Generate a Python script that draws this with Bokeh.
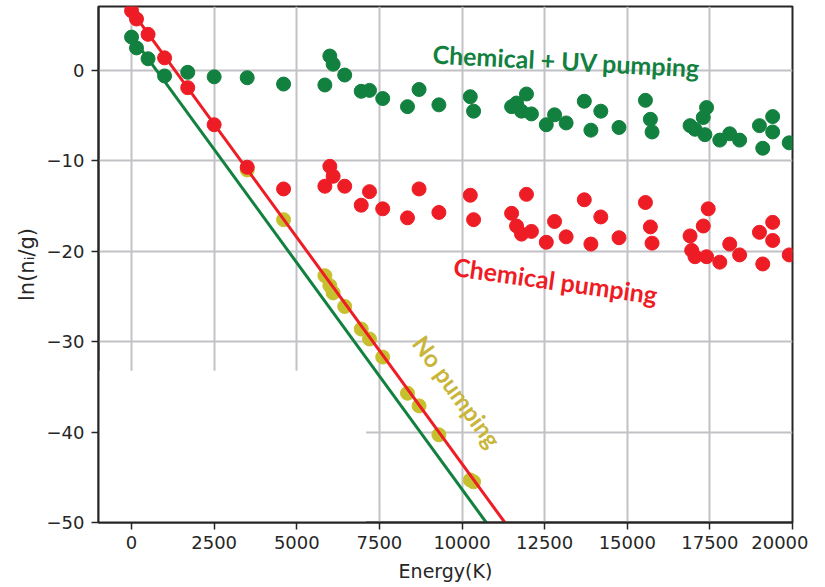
from bokeh.plotting import figure
from bokeh.models import Range1d, FixedTicker, BoxAnnotation, Label
from bokeh.embed import file_html
from bokeh.resources import INLINE

# ---- data ----
uv_x = [0, 150, 500, 1000, 1700, 2500, 3500, 4600, 5850, 6000, 6100, 6450, 6950, 7200,
        7600, 8350, 8700, 9300, 10250, 10350, 11500, 11650, 11800, 11950, 12100, 12550,
        12800, 13150, 13700, 13900, 14200, 14750, 15550, 15700, 15750, 16900, 17050,
        17300, 17350, 17400, 17800, 18100, 18400, 19000, 19100, 19400, 19400, 19900]
uv_y = [3.7, 2.5, 1.3, -0.6, -0.2, -0.7, -0.8, -1.5, -1.6, 1.6, 0.7, -0.5, -2.3, -2.2,
        -3.1, -4.0, -2.1, -3.8, -2.9, -4.5, -4.0, -3.6, -4.5, -2.6, -4.8, -6.0,
        -4.9, -5.8, -3.4, -6.6, -4.5, -6.3, -3.3, -5.4, -6.8, -6.1, -6.5,
        -5.2, -7.1, -4.1, -7.7, -7.0, -7.7, -6.1, -8.6, -5.1, -6.8, -8.0]

chem_x = [0, 150, 500, 1000, 1700, 2500, 3500, 4600, 5850, 6000, 6100, 6450, 6950, 7200,
          7600, 8350, 8700, 9300, 10250, 10350, 11500, 11650, 11800, 11950, 12100, 12550,
          12800, 13150, 13700, 13900, 14200, 14750, 15550, 15700, 15750, 16900, 16950,
          17050, 17300, 17400, 17450, 17800, 18100, 18400, 19000, 19100, 19400, 19400, 19900]
chem_y = [6.6, 5.7, 4.0, 1.4, -1.9, -6.0, -10.7, -13.1, -12.8, -10.6, -11.7, -12.8, -14.9, -13.4,
          -15.3, -16.3, -13.1, -15.7, -13.8, -16.5, -15.8, -17.2, -18.1, -13.7, -17.8, -19.0,
          -16.7, -18.4, -14.3, -19.2, -16.2, -18.5, -14.6, -17.3, -19.1, -18.3, -19.9,
          -20.6, -17.2, -20.6, -15.3, -21.2, -19.2, -20.4, -17.9, -21.4, -16.8, -18.8, -20.4]

nop_x = [3500, 4600, 5850, 6000, 6100, 6450, 6950, 7200, 7600, 8350, 8700, 9300, 10250, 10350]
nop_y = [-11.0, -16.5, -22.7, -23.8, -24.6, -26.1, -28.6, -29.7, -31.7, -35.7, -37.1, -40.3, -45.3, -45.5]

chem_fit_x = [0, 11295]
chem_fit_y = [6.6, -50.0]
uv_fit_x = [0, 10732]
uv_fit_y = [3.8, -50.0]

x_ticks = [0, 2500, 5000, 7500, 10000, 12500, 15000, 17500, 20000]
y_ticks = [-50, -40, -30, -20, -10, 0]

GREEN = "#12803e"
RED = "#ee1c25"
YELLOW = "#c6c02e"
YTEXT = "#c9b53a"
AXC = "#262626"

p = figure(width=808, height=587, output_backend="svg", toolbar_location=None,
           x_range=Range1d(-1000, 20000), y_range=Range1d(-50, 7.08),
           min_border_left=98, min_border_right=16, min_border_top=6, min_border_bottom=65)

p.background_fill_color = "white"
p.border_fill_color = "white"
p.outline_line_color = AXC
p.outline_line_width = 2

for ax in (p.xaxis[0], p.yaxis[0]):
    ax.axis_line_color = AXC
    ax.axis_line_width = 2
    ax.major_tick_line_color = AXC
    ax.major_tick_line_width = 1.5
    ax.major_tick_out = 7
    ax.major_tick_in = 0
    ax.minor_tick_line_color = None
    ax.major_label_text_font = "DejaVu Sans"
    ax.major_label_text_font_size = "18px"
    ax.major_label_text_color = AXC
    ax.axis_label_text_font = "DejaVu Sans"
    ax.axis_label_text_font_size = "19px"
    ax.axis_label_text_font_style = "normal"
    ax.axis_label_text_color = AXC

p.xaxis.ticker = FixedTicker(ticks=x_ticks)
p.yaxis.ticker = FixedTicker(ticks=y_ticks)
p.xaxis.major_label_standoff = 6
p.yaxis.major_label_standoff = 7
p.xaxis.axis_label = "Energy(K)"
p.yaxis.axis_label = "ln(n\u1d62/g)"
p.yaxis.axis_label_text_font_size = "21px"
p.xaxis.axis_label_standoff = 8
p.yaxis.axis_label_standoff = 5
p.yaxis.major_label_overrides = {t: ("\u2212" + str(-t) if t < 0 else str(t)) for t in y_ticks}

p.grid.grid_line_color = "#c2c2c6"
p.grid.grid_line_width = 2

# white patch hiding part of the grid, as in the picture
p.add_layout(BoxAnnotation(left=-1000, right=7100, bottom=-50, top=-33.2,
                           fill_color="white", fill_alpha=1.0, line_alpha=0,
                           level="underlay"))

p.scatter(nop_x, nop_y, size=14, color=YELLOW)
p.scatter(uv_x, uv_y, size=14, color=GREEN)
p.scatter(chem_x, chem_y, size=14, color=RED)
p.line(uv_fit_x, uv_fit_y, line_color=GREEN, line_width=3)
p.line(chem_fit_x, chem_fit_y, line_color=RED, line_width=3)

p.add_layout(Label(x=13160, y=1.1, text="Chemical + UV pumping", text_font="Lato",
                   text_font_style="bold", text_font_size="25px", text_color=GREEN,
                   text_align="center", text_baseline="middle", angle=-3, angle_units="deg"))
p.add_layout(Label(x=12830, y=-23.2, text="Chemical pumping", text_font="Lato",
                   text_font_style="bold", text_font_size="25px", text_color=RED,
                   text_align="center", text_baseline="middle", angle=-8, angle_units="deg"))
p.add_layout(Label(x=9855, y=-35.5, text="No pumping", text_font="Lato",
                   text_font_style="bold", text_font_size="24px", text_color=YTEXT,
                   text_align="center", text_baseline="middle", angle=-54, angle_units="deg"))

open("out.html", "w").write(file_html(p, INLINE))
